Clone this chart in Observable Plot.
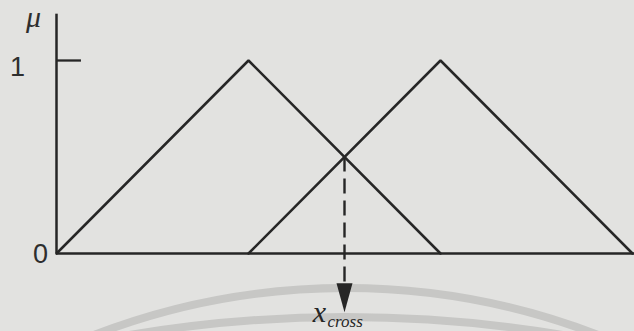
<!DOCTYPE html>
<html>
<head>
<meta charset="utf-8">
<script src="https://cdn.jsdelivr.net/npm/d3@7"></script>
<script src="https://cdn.jsdelivr.net/npm/@observablehq/plot@0.6"></script>
<style>
  html, body { margin: 0; padding: 0; background: #e2e2e0; }
  #chart svg { display: block; }
</style>
</head>
<body>
<div id="chart"></div>
<script>
// Two triangular membership functions and their crossover point
const sets = ["left", "right"];
const feet = [0, 1];     // where each triangle starts (μ = 0)
const peaks = [1, 2];    // where each triangle reaches μ = 1
const ends = [2, 3];     // where each triangle returns to μ = 0

const yTickValues = [0, 1];
const yTickLabels = ["0", "1"];
const yAxisLabel = "μ";

const xCross = 1.5;      // crossover abscissa
const muCross = 0.5;     // membership value at the crossover
const crossLabel = "x";
const crossSub = "cross";

// Axis extents in data units
const xAxisEnd = 3.02;
const yAxisTop = 1.24;
const arrowTipY = -0.305;
const dashEndY = -0.155;

const ink = "#262626";
const sans = "'Liberation Sans', Arial, sans-serif";
const serif = "'Liberation Serif', 'Times New Roman', serif";

const triangles = sets.flatMap((s, i) => [
  {set: s, x: feet[i], mu: 0},
  {set: s, x: peaks[i], mu: 1},
  {set: s, x: ends[i], mu: 0}
]);

// Filled arrowhead pointing down, tip at the anchor point
const arrowHead = {
  draw(context) {
    context.moveTo(0, 0);
    context.lineTo(-8, -29);
    context.lineTo(8, -29);
    context.closePath();
  }
};

// Faint curved bands printed behind the figure
function backdrop(index, scales, values, dimensions) {
  const g = d3.create("svg:g").attr("fill", "none").attr("stroke", "#c7c7c5").attr("stroke-width", 8);
  const cx = scales.x(xCross) + 2;
  [[288, 700], [317, 1300]].forEach(([top, r]) => {
    g.append("circle").attr("cx", cx).attr("cy", top + r).attr("r", r);
  });
  return g.node();
}

const tickLabel = (i, dx, dy) => Plot.text([yTickValues[i]], {
  x: () => 0, y: d => d, text: () => yTickLabels[i],
  dx, dy, fontSize: 27, fill: "#2e2e2e", fontFamily: sans,
  textAnchor: "middle", lineAnchor: "bottom"
});

const chart = Plot.plot({
  width: 634,
  height: 331,
  margin: 0,
  style: {background: "#e2e2e0", overflow: "hidden"},
  x: {domain: [0, 3], range: [56, 632], axis: null},
  y: {domain: [0, 1], range: [253, 60], axis: null},
  marks: [
    backdrop,
    // axes
    Plot.ruleY([0], {x1: 0, x2: xAxisEnd, stroke: ink, strokeWidth: 2.5}),
    Plot.ruleX([0], {y1: 0, y2: yAxisTop, stroke: ink, strokeWidth: 2.5}),
    Plot.ruleY([1], {x1: 0, x2: 0.13, stroke: ink, strokeWidth: 2.3}),
    // membership functions
    Plot.line(triangles, {x: "x", y: "mu", z: "set", stroke: ink, strokeWidth: 2.5, strokeLinejoin: "miter"}),
    // crossover projection
    Plot.ruleX([xCross], {y1: muCross, y2: dashEndY, stroke: ink, strokeWidth: 2.4, strokeDasharray: "15,7"}),
    Plot.dot([xCross], {x: d => d, y: () => arrowTipY, symbol: arrowHead, fill: ink, stroke: "none"}),
    // labels
    tickLabel(0, -16, 9),
    tickLabel(1, -39, 15),
    Plot.text([yAxisLabel], {x: () => 0, y: () => yAxisTop, text: d => d, dx: -23, dy: 13,
      fontSize: 30, fontStyle: "italic", fontFamily: serif,
      fill: "#2e2e2e", textAnchor: "middle", lineAnchor: "bottom"}),
    Plot.text([crossLabel], {x: () => xCross, y: () => arrowTipY, text: d => d, dx: -25, dy: 10,
      fontSize: 30, fontStyle: "italic", fontFamily: serif,
      fill: ink, textAnchor: "middle", lineAnchor: "bottom"}),
    Plot.text([crossSub], {x: () => xCross, y: () => arrowTipY, text: d => d, dx: -17, dy: 15,
      fontSize: 17, fontStyle: "italic", fontFamily: serif,
      fill: ink, textAnchor: "start", lineAnchor: "bottom"})
  ]
});

document.getElementById("chart").appendChild(chart);
</script>
</body>
</html>
